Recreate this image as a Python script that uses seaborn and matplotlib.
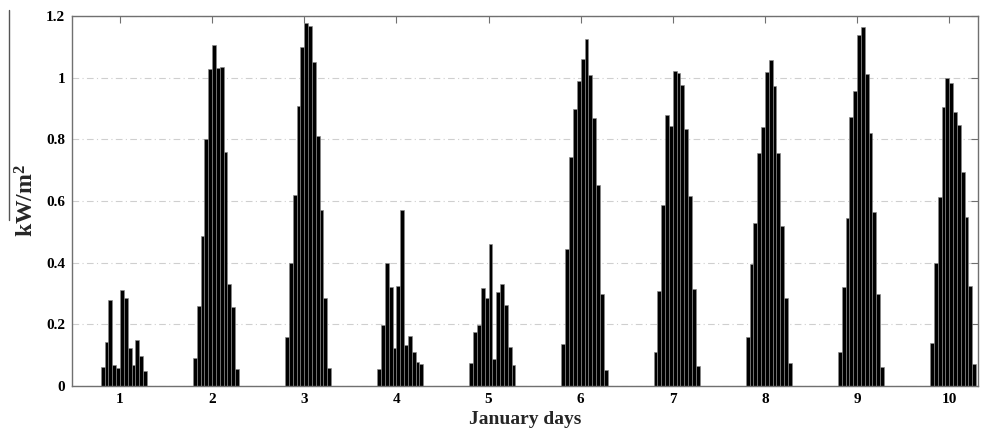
import numpy as np
import pandas as pd
import matplotlib
matplotlib.use("Agg")
import matplotlib.pyplot as plt
from matplotlib.lines import Line2D
import seaborn as sns

# Hourly solar irradiance (kW/m^2) for the daylight hours 08:00-19:00 of each day
day_01 = [0.062, 0.143, 0.280, 0.068, 0.058, 0.310, 0.285, 0.123, 0.068, 0.150, 0.097, 0.049]
day_02 = [0.090, 0.260, 0.485, 0.800, 1.027, 1.106, 1.030, 1.035, 0.760, 0.330, 0.255, 0.054]
day_03 = [0.160, 0.398, 0.620, 0.908, 1.100, 1.178, 1.168, 1.052, 0.810, 0.571, 0.284, 0.060]
day_04 = [0.054, 0.198, 0.400, 0.320, 0.122, 0.325, 0.571, 0.132, 0.163, 0.110, 0.079, 0.070]
day_05 = [0.076, 0.174, 0.198, 0.317, 0.284, 0.460, 0.088, 0.306, 0.331, 0.263, 0.125, 0.068]
day_06 = [0.136, 0.444, 0.742, 0.898, 0.989, 1.059, 1.124, 1.009, 0.868, 0.652, 0.300, 0.052]
day_07 = [0.111, 0.309, 0.586, 0.879, 0.844, 1.022, 1.014, 0.976, 0.834, 0.616, 0.314, 0.065]
day_08 = [0.160, 0.395, 0.530, 0.757, 0.839, 1.019, 1.057, 0.973, 0.757, 0.519, 0.286, 0.074]
day_09 = [0.111, 0.320, 0.544, 0.871, 0.958, 1.138, 1.165, 1.012, 0.820, 0.565, 0.300, 0.062]
day_10 = [0.138, 0.400, 0.614, 0.906, 0.998, 0.984, 0.890, 0.846, 0.695, 0.547, 0.324, 0.071]

days = [1, 2, 3, 4, 5, 6, 7, 8, 9, 10]
day_labels = ["1", "2", "3", "4", "5", "6", "7", "8", "9", "10"]
y_ticks = [0, 0.2, 0.4, 0.6, 0.8, 1.0, 1.2]
y_tick_labels = ["0", "0.2", "0.4", "0.6", "0.8", "1", "1.2"]

HOURS_PER_DAY = 24
FIRST_SUN_HOUR = 8

daylight = [day_01, day_02, day_03, day_04, day_05,
            day_06, day_07, day_08, day_09, day_10]

# Expand to a continuous hourly series (night hours are zero)
rows = []
for d, vals in zip(days, daylight):
    for h in range(1, HOURS_PER_DAY + 1):
        k = h - FIRST_SUN_HOUR
        v = vals[k] if 0 <= k < len(vals) else 0.0
        rows.append({"hour": HOURS_PER_DAY * (d - 1) + h, "irradiance": v})
df = pd.DataFrame(rows)
df_day = df[df["irradiance"] > 0]

sns.set_theme(style="white")
plt.rcParams["font.family"] = ["Liberation Serif", "DejaVu Serif"]
plt.rcParams["font.weight"] = "bold"
plt.rcParams["mathtext.fontset"] = "custom"
plt.rcParams["mathtext.rm"] = "Liberation Serif:bold"
plt.rcParams["mathtext.it"] = "Liberation Serif:bold"
plt.rcParams["mathtext.bf"] = "Liberation Serif:bold"

fig = plt.figure(figsize=(9.82, 4.32), dpi=100)
W, H = 982, 432
ax = fig.add_axes([72 / W, 1 - 386 / H, (978 - 72) / W, (386 - 16) / H])

sns.barplot(data=df_day, x="hour", y="irradiance", native_scale=True,
            color="black", saturation=1, width=1.0, errorbar=None,
            edgecolor="#8a8a8a", linewidth=0.45, ax=ax)

ax.set_xlim(0, 236)
ax.set_ylim(0, 1.2)

tick_pos = [HOURS_PER_DAY * (d - 1) + 12.5 for d in days]
ax.set_xticks(tick_pos)
ax.set_xticklabels(day_labels)
ax.set_yticks(y_ticks)
ax.set_yticklabels(y_tick_labels)

ax.yaxis.grid(True, color="#cfcfcf", linestyle=(0, (6, 3, 1, 3)), linewidth=0.8)
ax.xaxis.grid(False)
ax.set_axisbelow(True)

for s in ax.spines.values():
    s.set_visible(True)
    s.set_color("#707070")
    s.set_linewidth(1.0)

ax.tick_params(direction="in", top=True, right=True, length=5, width=0.8,
               color="#707070", labelsize=11, labelcolor="black", pad=5)
for lab in ax.get_xticklabels() + ax.get_yticklabels():
    lab.set_fontweight("bold")

ax.set_xlabel("January days", fontsize=14, fontweight="bold", labelpad=4)
ax.set_ylabel("kW/m$^2$", fontsize=17, fontweight="bold")
ax.yaxis.set_label_coords(-0.037, 0.5)

fig.add_artist(Line2D([9 / W, 9 / W], [1 - 10 / H, 1 - 220 / H],
                      color="#555555", linewidth=1.0))

fig.savefig("out.png", dpi=100)
